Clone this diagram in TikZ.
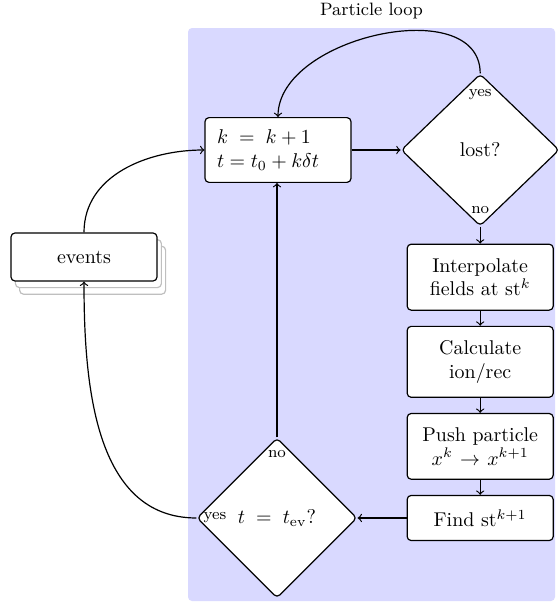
\documentclass[tikz,border=0pt]{standalone}
\usepackage{amsmath,amssymb}
\usepackage{tikz}
\usetikzlibrary{shapes,arrows,backgrounds,%
positioning,calc,shadows%
}

\begin{document}
\begin{tikzpicture}[>=to,line join=bevel,semithick,
  box/.style={draw,rounded corners=2pt,fill=white,text width=61bp,inner xsep=6bp,inner ysep=7bp,align=center},
  decision/.style={draw,diamond,aspect=1,rounded corners=2pt,fill=white,inner sep=0pt,minimum width=79bp,minimum height=76bp},
  answer/.style={font=\footnotesize,inner sep=3.33bp},
  stack/.style={copy shadow={shadow xshift=4.3bp,shadow yshift=-6.6bp,draw=black!25},
                copy shadow={shadow xshift=2.2bp,shadow yshift=-3.3bp,draw=black!25}},
]
%%
\useasboundingbox (0bp,0bp) rectangle (279bp,-302.5bp);
\fill [blue!15,rounded corners=2pt] (94bp,-14bp) rectangle (277.5bp,-300.5bp);
\node (looplabel) at (185.75bp,-5.5bp) [font=\small] {Particle loop};
%%
\node (update) at (139bp,-75bp) [box,inner ysep=6bp,align=left] {$k\;=\;k+1$\\$t=t_0+k\delta t$};
  \node (lost) [decision,right=24.5bp of update] {lost?};
  \node (interp) [box,below=8.5bp of lost] {Interpolate\\fields at st$^k$};
  \node (calc) [box,below=7.5bp of interp] {Calculate\\ion/rec};
  \node (push) [box,below=7.5bp of calc] {Push particle\\$x^k\to x^{k+1}$};
  \node (find) [box,below=7.5bp of push] {Find st$^{k+1}$};
  \node (tev) [decision,left=24.5bp of find,minimum width=80bp,minimum height=80bp] {$t\;=\;t_{\mathrm{ev}}$?};
  \node (events) at (42bp,-128.5bp) [box,minimum height=24bp,stack] {events};
%%
\node (lostyes) [answer,below=4.5bp of lost.north] {yes};
  \node (lostno) [answer,above=3bp of lost.south] {no};
  \node (tevno) [answer,below=3bp of tev.north] {no};
  \node (tevyes) [answer,right=0bp of tev.west] {yes};
%%
\draw [->] (update) -- (lost);
  \draw [->] (lost) -- (interp);
  \draw [->] (interp) -- (calc);
  \draw [->] (calc) -- (push);
  \draw [->] (push) -- (find);
  \draw [->] (find) -- (tev);
  \draw [->] (tev.north) -- (tev.north |- update.south);
  \draw [->] (lost.north) to[out=90,in=90] (update.north);
  \draw [->] (tev.west) to[out=180,in=-90] (events.south);
  \draw [->] (events.north) to[out=90,in=180] (update.west);
%
\end{tikzpicture}
\end{document}
